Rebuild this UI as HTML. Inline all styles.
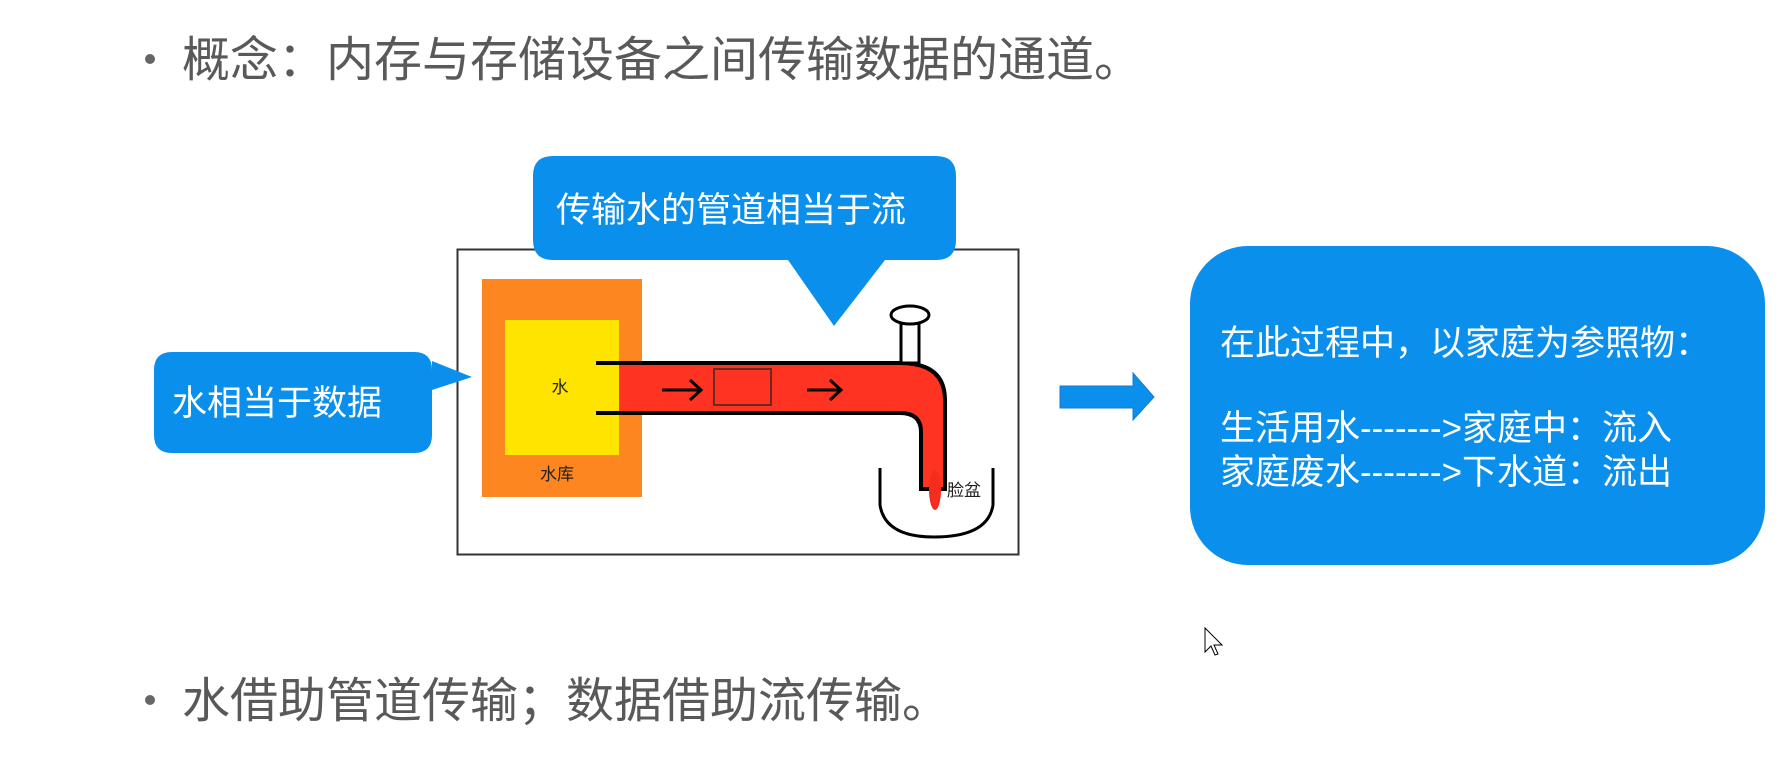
<!DOCTYPE html>
<html><head><meta charset="utf-8"><style>
html,body{margin:0;padding:0;background:#fff;width:1791px;height:760px;overflow:hidden}
svg{display:block}
text{font-family:"Liberation Sans","Noto Sans CJK SC",sans-serif}
</style></head><body>
<svg width="1791" height="760" viewBox="0 0 1791 760" xmlns="http://www.w3.org/2000/svg">
<circle cx="150" cy="59" r="5" fill="#666"/>
<text x="182" y="76" font-size="48" fill="#595959">概念：内存与存储设备之间传输数据的通道。</text>
<circle cx="150" cy="700" r="5" fill="#666"/>
<text x="182" y="717" font-size="48" fill="#595959">水借助管道传输；数据借助流传输。</text>

<rect x="457.5" y="249.5" width="561" height="305" fill="#fff" stroke="#333" stroke-width="2"/>
<rect x="482" y="279" width="160" height="218" fill="#fd8621"/>
<rect x="505" y="320" width="114" height="135" fill="#ffe400"/>
<text x="560" y="393" font-size="17" text-anchor="middle" fill="#222">水</text>
<text x="557" y="480" font-size="17" text-anchor="middle" fill="#222">水库</text>

<path d="M619 363 H900 Q945 363 945 400 V489 H921 V432 Q921 413 900 413 H619 Z" fill="#ff3322"/>
<path d="M596 363 H900 Q945 363 945 400 V489 M596 413 H900 Q921 413 921 432 V489 M919 489 H947" fill="none" stroke="#000" stroke-width="4"/>
<rect x="714" y="369" width="57" height="36" fill="none" stroke="#6a2a22" stroke-width="2"/>
<path d="M662 390 H700 M690 380 L701 390 L690 400 M807 390 H840 M830 380 L841 390 L830 400" fill="none" stroke="#000" stroke-width="3"/>
<rect x="901" y="322" width="18" height="41" fill="#fff" stroke="#000" stroke-width="3"/>
<ellipse cx="910" cy="315" rx="19" ry="9" fill="#fff" stroke="#000" stroke-width="3"/>
<path d="M880 468 V505 Q885 537 934 537 Q988 537 993 505 V468" fill="none" stroke="#000" stroke-width="3"/>
<ellipse cx="935" cy="490" rx="6" ry="20" fill="#f52d1e"/>
<text x="947" y="496" font-size="17" fill="#222">脸盆</text>

<path d="M560 156 H936 Q956 156 956 176 V240 Q956 260 936 260 H885 L834 326 L788 260 H553 Q533 260 533 240 V176 Q533 156 553 156 Z" fill="#0a90ec"/>
<text x="556" y="222" font-size="35" fill="#fff">传输水的管道相当于流</text>

<path d="M172 352 H414 Q432 352 432 370 V361 L472 377 L432 390 V435 Q432 453 414 453 H172 Q154 453 154 435 V370 Q154 352 172 352 Z" fill="#0a90ec"/>
<text x="172" y="415" font-size="35" fill="#fff">水相当于数据</text>

<path d="M1060 386 H1133 V373 L1154 397 L1133 420 V408 H1060 Z" fill="#0a90ec" stroke="#1a7ac8" stroke-width="1"/>

<rect x="1190" y="246" width="575" height="319" rx="58" fill="#0a90ec"/>
<text x="1220" y="355" font-size="35" fill="#fff">在此过程中，以家庭为参照物：</text>
<text x="1220" y="440" font-size="35" fill="#fff">生活用水-------&gt;家庭中：流入</text>
<text x="1220" y="484" font-size="35" fill="#fff">家庭废水-------&gt;下水道：流出</text>

<path d="M1205 628 V652 L1211 646 L1215 655 L1218 654 L1214 645 L1222 645 Z" fill="#fff" stroke="#000" stroke-width="1"/>
</svg>
</body></html>
